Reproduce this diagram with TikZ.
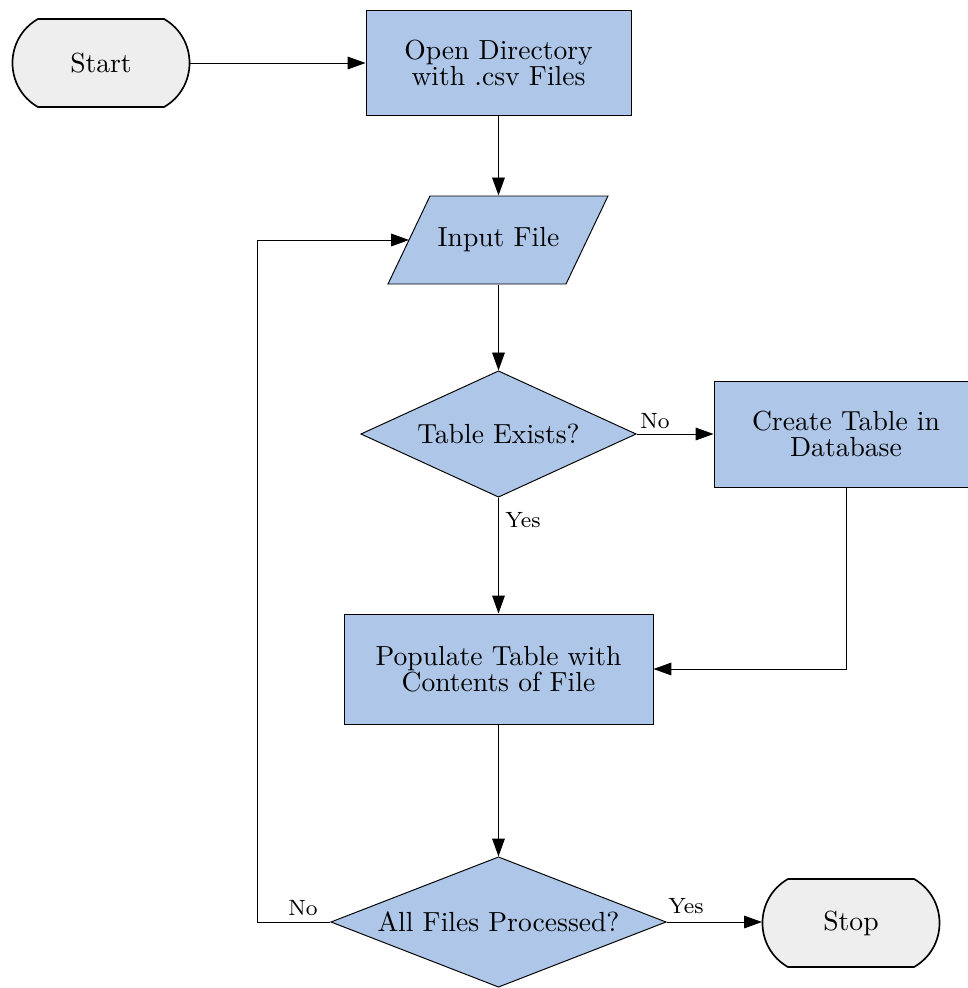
\documentclass[tikz,border=0pt]{standalone}
\usetikzlibrary{arrows.meta}
\definecolor{boxblue}{RGB}{174,199,232}
\definecolor{termgray}{RGB}{238,238,238}
\begin{document}
\begin{tikzpicture}[x=0.3623pt,y=-0.3623pt,
  every node/.style={font=\fontsize{10}{9.5}\selectfont, align=center},
  anchorbox/.style={inner sep=0pt, rectangle},
  proc/.style={draw, fill=boxblue, line width=0.35pt, rectangle, inner sep=0pt},
  shapeline/.style={line width=0.35pt},
  termline/.style={line width=0.6pt},
  arr/.style={line width=0.35pt, -{Triangle[length=6.5pt,width=4.6pt]}},
  lbl/.style={font=\footnotesize, inner sep=0pt}]
  \useasboundingbox (0,0) rectangle (968,988);

  % terminals: flat top and bottom, shallow round ends
  \filldraw[termline, fill=termgray] (37.9,19) -- (164.1,19)
    .. controls (198.0,38.6) and (198.0,87.4) .. (164.1,107) -- (37.9,107)
    .. controls (4.0,87.4) and (4.0,38.6) .. cycle;
  \node[anchorbox, minimum width={177*0.3623pt}, minimum height={88*0.3623pt}]
    (start) at (101,63) {Start};

  \filldraw[termline, fill=termgray] (787.9,879) -- (914.1,879)
    .. controls (948.0,898.6) and (948.0,947.4) .. (914.1,967) -- (787.9,967)
    .. controls (754.0,947.4) and (754.0,898.6) .. cycle;
  \node[anchorbox, minimum width={177*0.3623pt}, minimum height={88*0.3623pt}]
    (stop) at (851,923) {Stop};

  % process boxes
  \node[proc, minimum width={265*0.3623pt}, minimum height={105*0.3623pt}]
    (opendir) at (498.5,63) {Open Directory\\with .csv Files};
  \node[proc, minimum width={264*0.3623pt}, minimum height={106*0.3623pt}]
    (create) at (846,434) {Create Table in\\Database};
  \node[proc, minimum width={309*0.3623pt}, minimum height={110*0.3623pt}]
    (populate) at (498.5,669) {Populate Table with\\Contents of File};

  % input parallelogram
  \filldraw[shapeline, fill=boxblue]
    (430,196) -- (608,196) -- (566,284) -- (388,284) -- cycle;
  \node[anchorbox, minimum width={178*0.3623pt}, minimum height={88*0.3623pt}]
    (input) at (498.5,240) {Input File};
  \coordinate (inputleft) at (409,240);

  % decisions
  \filldraw[shapeline, fill=boxblue]
    (361,434) -- (498.5,371) -- (636,434) -- (498.5,497) -- cycle;
  \node[anchorbox, minimum width={275*0.3623pt}, minimum height={126*0.3623pt}]
    (exists) at (498.5,434) {Table Exists?};
  \filldraw[shapeline, fill=boxblue]
    (331,922) -- (498.5,857) -- (666,922) -- (498.5,987) -- cycle;
  \node[anchorbox, minimum width={335*0.3623pt}, minimum height={130*0.3623pt}]
    (allfiles) at (498.5,922) {All Files Processed?};

  % connectors
  \draw[arr] (start.east) -- (opendir.west);
  \draw[arr] (opendir.south) -- (input.north);
  \draw[arr] (input.south) -- (exists.north);
  \draw[arr] (exists.east) -- (create.west);
  \draw[arr] (exists.south) -- (populate.north);
  \draw[arr] (create.south) |- (populate.east);
  \draw[arr] (populate.south) -- (allfiles.north);
  \coordinate (loopturn) at (257,922);
  \draw[arr] (allfiles.west) -- (loopturn) |- (inputleft);
  \draw[arr] (allfiles.east) -- (stop.west |- allfiles.east);

  % branch labels
  \node[lbl] (noA) at (655,421) {No};
  \node[lbl] (yesA) at (523,520) {Yes};
  \node[lbl] (noB) at (303,908) {No};
  \node[lbl] (yesB) at (686,906) {Yes};
\end{tikzpicture}
\end{document}
